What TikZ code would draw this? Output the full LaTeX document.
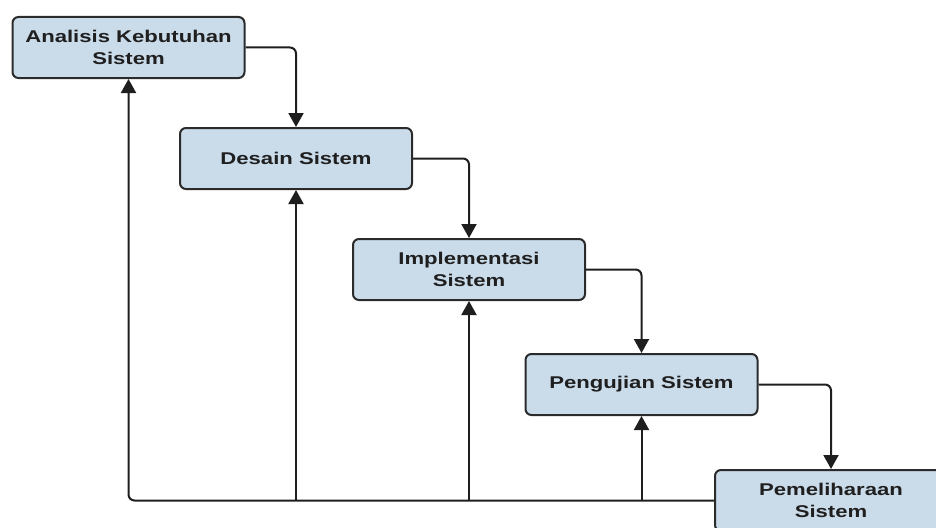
\documentclass[tikz,border=0pt]{standalone}
\usepackage{fontspec}
\setmainfont{Liberation Sans}
\usetikzlibrary{arrows.meta}
\definecolor{boxfill}{HTML}{CADBEA}
\definecolor{boxdraw}{HTML}{2B2B2B}
\definecolor{linecol}{HTML}{1E1E1E}
\begin{document}
\begin{tikzpicture}[x=1pt,y=-1pt,
  box/.style={draw=boxdraw, line width=2pt, fill=boxfill, rounded corners=6pt,
    minimum width=232pt, minimum height=61pt, align=center, inner sep=0pt,
    font=\fontsize{17}{22}\selectfont\bfseries\addfontfeature{FakeStretch=1.3},
    text=black!88},
  conn/.style={draw=linecol, line width=2pt, rounded corners=6pt,
    -{Triangle[width=15pt,length=14pt]}}]
\useasboundingbox (0,0) rectangle (936,527);
\clip (0,0) rectangle (936,527);
\node[box] (a) at (128.5,47.5) {Analisis Kebutuhan\\Sistem};
\node[box] (b) at (296,158.5) {Desain Sistem};
\node[box] (c) at (469,269.5) {Implementasi\\Sistem};
\node[box] (d) at (641.5,384.5) {Pengujian Sistem};
\node[box] (e) at (831,500.5) {Pemeliharaan\\Sistem};
\draw[conn] (a.east) -| (b.north);
\draw[conn] (b.east) -| (c.north);
\draw[conn] (c.east) -| (d.north);
\draw[conn] (d.east) -| (e.north);
\draw[conn] (e.west) -| (a.south);
\coordinate (fb) at (b.south |- e.west);
\coordinate (fc) at (c.south |- e.west);
\coordinate (fd) at (d.south |- e.west);
\draw[conn] (fb) -- (b.south);
\draw[conn] (fc) -- (c.south);
\draw[conn] (fd) -- (d.south);
\end{tikzpicture}
\end{document}
